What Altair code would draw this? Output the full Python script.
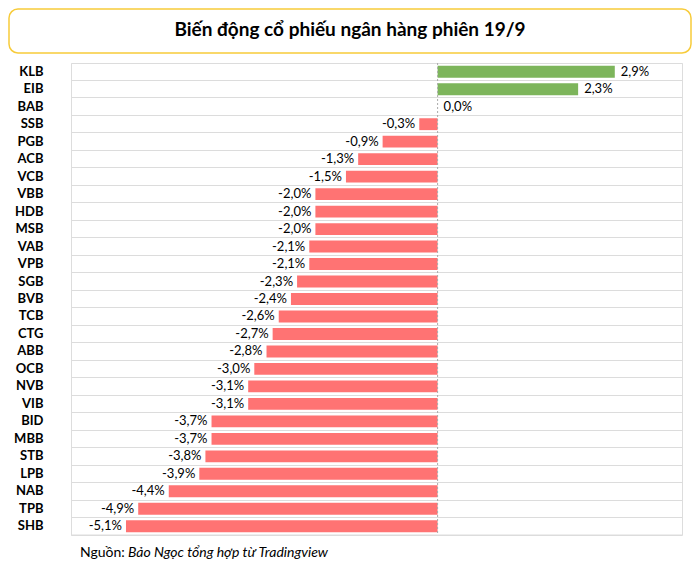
import altair as alt
import pandas as pd

tickers = ["KLB", "EIB", "BAB", "SSB", "PGB", "ACB", "VCB", "VBB", "HDB", "MSB",
           "VAB", "VPB", "SGB", "BVB", "TCB", "CTG", "ABB", "OCB", "NVB", "VIB",
           "BID", "MBB", "STB", "LPB", "NAB", "TPB", "SHB"]
changes = [2.9, 2.3, 0.0, -0.3, -0.9, -1.3, -1.5, -2.0, -2.0, -2.0,
           -2.1, -2.1, -2.3, -2.4, -2.6, -2.7, -2.8, -3.0, -3.1, -3.1,
           -3.7, -3.7, -3.8, -3.9, -4.4, -4.9, -5.1]

title_text = "Biến động cổ phiếu ngân hàng phiên 19/9"
source_prefix = "Nguồn:"
source_text = "Bảo Ngọc tổng hợp từ Tradingview"

FONT = "Lato"
W, H = 611, 472

df = pd.DataFrame({
    "ticker": tickers,
    "change": changes,
    "label": [f"{v:.1f}%".replace(".", ",") for v in changes],
    "sign": ["pos" if v >= 0 else "neg" for v in changes],
})

x_scale = alt.Scale(domain=[-6, 4], nice=False, zero=False)
y_enc = alt.Y("ticker:N", sort=tickers, title=None,
              scale=alt.Scale(paddingInner=0, paddingOuter=0),
              axis=alt.Axis(domain=False, ticks=False, grid=True, bandPosition=0,
                            gridColor="#DCDCDC", gridWidth=1,
                            labelFont=FONT, labelFontWeight="bold", labelFontSize=13,
                            labelColor="#000000", labelPadding=28))

base = alt.Chart(df)

bars = base.mark_bar(height=alt.RelativeBandSize(0.68)).encode(
    x=alt.X("change:Q", scale=x_scale, axis=None),
    y=y_enc,
    color=alt.Color("sign:N", scale=alt.Scale(domain=["pos", "neg"], range=["#7DB55B", "#FF7373"]), legend=None),
)

pos_text = base.transform_filter("datum.change >= 0").mark_text(
    align="left", baseline="middle", dx=6, font=FONT, fontSize=13, color="#000000"
).encode(x=alt.X("change:Q", scale=x_scale), y=alt.Y("ticker:N", sort=tickers), text="label:N")

neg_text = base.transform_filter("datum.change < 0").mark_text(
    align="right", baseline="middle", dx=-4, font=FONT, fontSize=13, color="#000000"
).encode(x=alt.X("change:Q", scale=x_scale), y=alt.Y("ticker:N", sort=tickers), text="label:N")

zero_rule = alt.Chart(pd.DataFrame({"z": [0]})).mark_rule(
    color="#AAAAAA", strokeDash=[2, 2], strokeWidth=1
).encode(x=alt.X("z:Q", scale=x_scale))

bottom_rule = alt.Chart(pd.DataFrame({"z": [0]})).mark_rule(color="#DCDCDC", strokeWidth=1).encode(
    x=alt.value(0), x2=alt.value(W), y=alt.value(H)
)

title_box = alt.Chart(pd.DataFrame({"z": [0]})).mark_rect(
    fill="#FFFFFF", stroke="#F7CB3A", strokeWidth=1.5, cornerRadius=9, clip=False
).encode(x=alt.value(-62), x2=alt.value(620), y=alt.value(-54), y2=alt.value(-10))

title_mark = alt.Chart(pd.DataFrame({"t": [title_text]})).mark_text(
    font=FONT, fontSize=19, fontWeight="bold", color="#000000", align="center", baseline="middle", clip=False
).encode(x=alt.value(279), y=alt.value(-33), text="t:N")

src1 = alt.Chart(pd.DataFrame({"t": [source_prefix]})).mark_text(
    font=FONT, fontSize=14, color="#000000", align="left", baseline="middle", clip=False
).encode(x=alt.value(9), y=alt.value(490), text="t:N")

src2 = alt.Chart(pd.DataFrame({"t": [source_text]})).mark_text(
    font=FONT, fontSize=14, fontStyle="italic", color="#000000", align="left", baseline="middle", clip=False
).encode(x=alt.value(57), y=alt.value(490), text="t:N")

chart = alt.layer(title_box, title_mark, bars, zero_rule, bottom_rule, pos_text, neg_text, src1, src2).properties(
    width=W, height=H,
    autosize=alt.AutoSizeParams(type="none"),
    padding={"left": 63, "top": 55, "right": 10, "bottom": 33},
).configure_view(stroke=None).configure(background="#FFFFFF")

chart.save("out.html", embed_options={"renderer": "svg", "actions": False})
